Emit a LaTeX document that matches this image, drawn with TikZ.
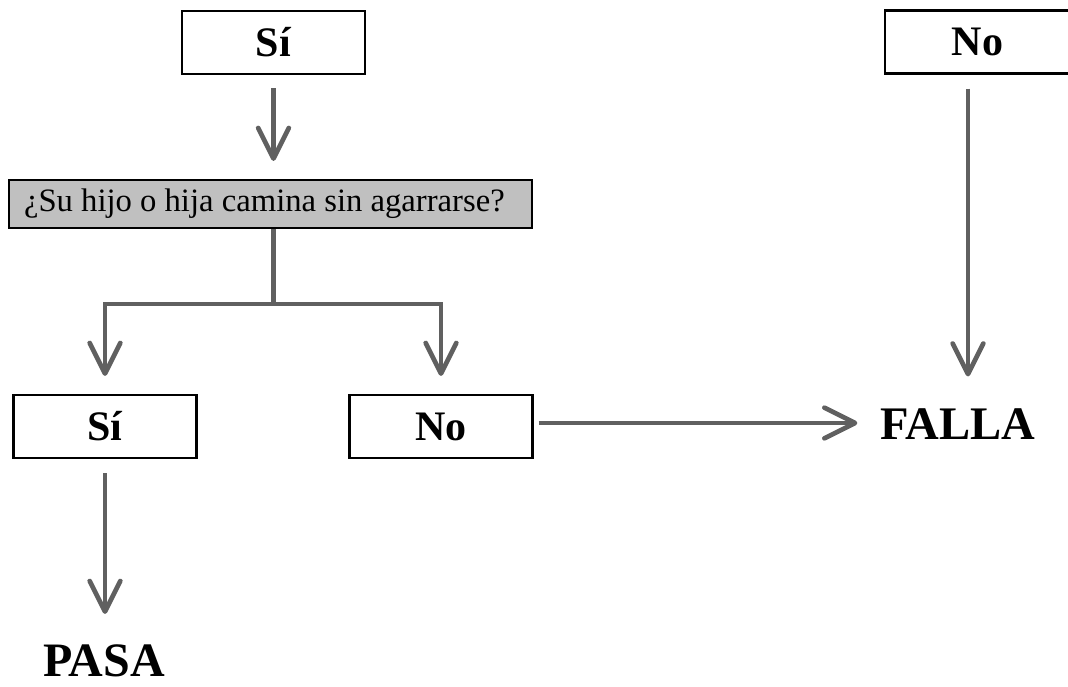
\documentclass[tikz,border=0pt]{standalone}
\usepackage{fontspec}
\setmainfont{Liberation Serif}
\usetikzlibrary{arrows.meta,calc}
\definecolor{linegray}{HTML}{606060}
\definecolor{boxgray}{HTML}{C0C0C0}
\begin{document}
\begin{tikzpicture}[x=0.75pt,y=-0.75pt,
  answer/.style={draw=black, line width=1.6pt, minimum width=137.25pt, minimum height=47.25pt,
    inner sep=0pt, font=\fontsize{31.5}{36}\selectfont\bfseries},
  question/.style={draw=black, fill=boxgray, line width=1.6pt,
    inner xsep=11.25pt, inner ysep=0pt, minimum height=36pt,
    font=\fontsize{24.5}{28}\selectfont},
  result/.style={inner sep=0pt, anchor=base, font=\fontsize{35}{40}\selectfont\bfseries},
  flow/.style={draw=linegray, line width=3.5pt, -{Straight Barb[length=23pt,width=23pt,round]}},
  link/.style={draw=linegray, line width=3.5pt}
]
\useasboundingbox (0,0) rectangle (1068,686);

% boxes
\node[answer] (si1) at (273.5,42.5) {Sí};
\node[answer, minimum width=138.75pt] (no1) at (977.5,42) {No};
\node[question] (q) at (270.5,204) {\makebox[369.75pt][l]{¿Su hijo o hija camina sin agarrarse?}};
\node[answer] (si2) at (105,426.5) {Sí};
\node[answer] (no2) at (441,426.5) {No};

% outcomes
\node[result] (falla) at (958,439) {FALLA};
\node[result, font=\fontsize{36}{40}\selectfont\bfseries] (pasa) at (104,676) {PASA};

% top "Sí" leads to the question
\draw[flow, shorten <=9.75pt, shorten >=13.5pt] (si1.south) -- (si1.south |- q.north);

% question splits into the two answers
\coordinate (split) at ($(si1.south |- q.south)+(0,75)$);
\draw[link] (split |- q.south) -- (split);
\draw[flow, shorten >=13.5pt] (split) -| (si2.north);
\draw[flow, shorten >=13.5pt] (split) -| (no2.north);

% answers to outcomes
\coordinate (nobranch) at ($(no2.east)+(0,-3.5)$);
\draw[flow, shorten <=3.75pt, shorten >=17.25pt] (nobranch) -- (nobranch -| falla.west);
\coordinate (rightdrop) at ($(no1.south)+(-9.5,0)$);
\draw[flow, shorten <=10.5pt, shorten >=23.6pt] (rightdrop) -- (rightdrop |- falla.north);
\draw[flow, shorten <=10.5pt, shorten >=22.5pt] (si2.south) -- (si2.south |- pasa.north);
\end{tikzpicture}
\end{document}
